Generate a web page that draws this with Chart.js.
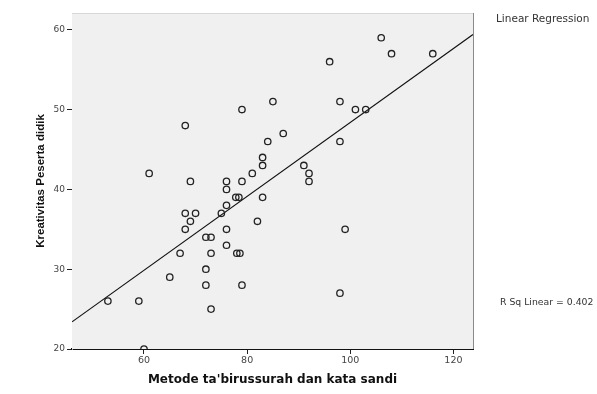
<!DOCTYPE html>
<html>
<head>
<meta charset="utf-8">
<script src="https://cdn.jsdelivr.net/npm/chart.js@4.4.1/dist/chart.umd.min.js"></script>
<style>
  html, body { margin: 0; padding: 0; background: #ffffff; }
  #wrap { position: relative; width: 597px; height: 394px; }
  canvas { display: block; }
</style>
</head>
<body>
<div id="wrap"><canvas id="c" width="597" height="394"></canvas></div>
<script>
// Metode ta'birussurah dan kata sandi (x) vs Kreativitas Peserta didik (y)
const metodeX = [53, 59, 60, 61, 65, 67, 68, 68, 70, 69, 68, 69, 72, 73, 72, 72, 73, 73,
                 75, 76, 76, 76, 76, 76, 77.8, 78.4, 78, 78.6, 79, 79, 79, 81, 82, 83, 83, 83,
                 84, 85, 87, 91, 92, 92, 96, 98, 98, 98, 99, 101, 103, 106, 108, 116];
const kreativitasY = [26, 26, 20, 42, 29, 32, 48, 37, 37, 36, 35, 41, 34, 34, 30, 28, 32, 25,
                      37, 38, 35, 33, 41, 40, 39, 39, 32, 32, 41, 28, 50, 42, 36, 44, 43, 39,
                      46, 51, 47, 43, 42, 41, 56, 51, 46, 27, 35, 50, 50, 59, 57, 57];
// Fitted linear regression line, read at the axis ends
const regLineX = [46.04, 123.8];
const regLineY = [23.4, 59.4];
const xTicks = [60, 80, 100, 120];
const yTicks = [20, 30, 40, 50, 60];
const xRange = [46.04, 123.8];
const yRange = [20, 62.1];
const legendTitle = 'Linear Regression';
const rSqText = 'R Sq Linear = 0.402';

const points = metodeX.map((x, i) => ({ x: x, y: kreativitasY[i] }));
const lineData = regLineX.map((x, i) => ({ x: x, y: regLineY[i] }));

const decor = {
  id: 'decor',
  beforeDatasetsDraw(chart) {
    const { ctx, chartArea: a } = chart;
    ctx.save();
    ctx.fillStyle = '#f0f0f0';
    ctx.fillRect(a.left, a.top, a.right - a.left, a.bottom - a.top);
    ctx.strokeStyle = '#d8d8d8';
    ctx.lineWidth = 1;
    ctx.beginPath();
    ctx.moveTo(a.left, a.top + 0.5);
    ctx.lineTo(a.right, a.top + 0.5);
    ctx.stroke();
    ctx.strokeStyle = '#8a8a8a';
    ctx.beginPath();
    ctx.moveTo(a.right + 0.5, a.top);
    ctx.lineTo(a.right + 0.5, a.bottom);
    ctx.stroke();
    ctx.restore();
  },
  afterDraw(chart) {
    const { ctx, chartArea: a } = chart;
    ctx.save();
    ctx.fillStyle = '#333';
    ctx.textBaseline = 'middle';
    ctx.textAlign = 'left';
    ctx.font = '10.5px "DejaVu Sans"';
    ctx.fillText(legendTitle, a.right + 23, 19);
    ctx.font = '9.3px "DejaVu Sans"';
    ctx.fillText(rSqText, a.right + 27, 303);
    ctx.restore();
  }
};

new Chart(document.getElementById('c'), {
  type: 'scatter',
  data: {
    datasets: [
      {
        type: 'scatter',
        data: points,
        pointStyle: 'circle',
        pointRadius: 3.2,
        pointBorderWidth: 1.3,
        pointBorderColor: '#222',
        pointBackgroundColor: 'rgba(0,0,0,0)',
        order: 1
      },
      {
        type: 'line',
        data: lineData,
        borderColor: '#111',
        borderWidth: 1.2,
        pointRadius: 0,
        fill: false,
        order: 2
      }
    ]
  },
  options: {
    responsive: false,
    animation: false,
    devicePixelRatio: 1,
    layout: { padding: { top: 13, right: 124, left: 0, bottom: 0 } },
    plugins: { legend: { display: false }, tooltip: { enabled: false } },
    scales: {
      x: {
        type: 'linear',
        min: xRange[0],
        max: xRange[1],
        afterBuildTicks: s => { s.ticks = xTicks.map(v => ({ value: v })); },
        afterFit: s => { s.height = 45; },
        ticks: { font: { family: 'DejaVu Sans', size: 9.5 }, color: '#444', padding: 1, maxRotation: 0 },
        grid: { drawOnChartArea: false, drawTicks: true, tickLength: 5, color: '#222' },
        border: { color: '#111', width: 2 },
        title: {
          display: true,
          text: "Metode ta'birussurah dan kata sandi",
          font: { family: 'DejaVu Sans', size: 12, weight: 'bold' },
          color: '#111',
          padding: { top: 0, bottom: 7 }
        }
      },
      y: {
        type: 'linear',
        min: yRange[0],
        max: yRange[1],
        afterBuildTicks: s => { s.ticks = yTicks.map(v => ({ value: v })); },
        afterFit: s => { s.width = 72; },
        ticks: { font: { family: 'DejaVu Sans', size: 9 }, color: '#444', padding: 2 },
        grid: { drawOnChartArea: false, drawTicks: true, tickLength: 5, color: '#222' },
        border: { color: '#999', width: 1 },
        title: {
          display: true,
          text: 'Kreativitas Peserta didik',
          font: { family: 'Liberation Sans', size: 11.5, weight: 'bold' },
          color: '#111',
          padding: { top: 34, bottom: 0 }
        }
      }
    }
  },
  plugins: [decor]
});
</script>
</body>
</html>
